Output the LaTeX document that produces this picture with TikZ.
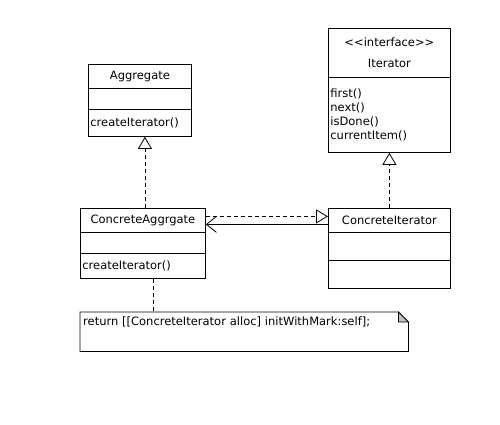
\documentclass[tikz,border=0pt]{standalone}
\usepackage{fontspec}
\setmainfont{DejaVu Sans}
\usetikzlibrary{arrows.meta}

\begin{document}
\begin{tikzpicture}[x=1pt,y=-1pt]
  \tikzstyle{c} = [draw, line width=0.8pt, anchor=north west, inner sep=0pt, font=\fontsize{11.5}{14}\selectfont]
  \tikzstyle{m} = [c, align=left, inner xsep=2pt]
  \tikzstyle{gen} = [line width=0.8pt, dash pattern=on 4pt off 3pt, -{Triangle[open, length=12pt, width=14pt]}]
  \tikzstyle{dep} = [line width=0.8pt, -{Straight Barb[length=10pt, width=16pt]}]
  \tikzstyle{note} = [anchor=north west, text width=322pt, inner xsep=3pt, inner ysep=2pt, text height=11pt, text depth=24pt, align=left, font=\fontsize{11.5}{14}\selectfont]
  \useasboundingbox (0,0) rectangle (500,424);

  \node[c, minimum width=103pt, minimum height=24pt](ag1) at (88,64){Aggregate};
  \node[c, minimum width=103pt, minimum height=21pt](ag2) at (88,88){};
  \node[m, text width=99pt, minimum height=27pt](ag3) at (88,109){createIterator()};

  \node[c, minimum width=122pt, minimum height=49pt, align=center](it1) at (328,28){<{}<interface>{}>\\[7pt]Iterator};
  \node[m, text width=118pt, minimum height=75pt](it2) at (328,77){first()\\next()\\isDone()\\currentItem()};

  \node[c, minimum width=125pt, minimum height=24pt](ca1) at (80,208){ConcreteAggrgate};
  \node[c, minimum width=125pt, minimum height=21pt](ca2) at (80,232){};
  \node[m, text width=121pt, minimum height=25pt](ca3) at (80,253){createIterator()};

  \node[c, minimum width=122pt, minimum height=24pt](ci1) at (328,208){ConcreteIterator};
  \node[c, minimum width=122pt, minimum height=28pt](ci2) at (328,232){};
  \node[c, minimum width=122pt, minimum height=28pt](ci3) at (328,260){};

  \node[note](nt) at (80,312){return [[ConcreteIterator alloc] initWithMark:self];};
  \draw[line width=0.8pt](nt.north west) -- ([xshift=-10pt]nt.north east) -- ([yshift=-10pt]nt.north east) -- (nt.south east) -- (nt.south west) -- cycle;
  \draw[line width=0.8pt, fill=black!25]([xshift=-10pt]nt.north east) -- ([xshift=-10pt, yshift=-10pt]nt.north east) -- ([yshift=-10pt]nt.north east) -- cycle;

  \draw[gen]([xshift=2pt]ca1.north) -- ([xshift=2pt]ca1.north |- ag3.south);
  \draw[gen](ci1.north) -- (it2.south);
  \draw[gen]([yshift=4pt]ca1.east) -- ([yshift=4pt]ca1.east -| ci1.west);
  \draw[dep]([yshift=-4pt]ci1.west) -- ([yshift=-4pt]ci1.west -| ca1.east);
  \draw[line width=0.8pt, dash pattern=on 4pt off 3pt]([xshift=10pt]ca3.south) -- ([xshift=10pt]ca3.south |- nt.north);

\end{tikzpicture}
\end{document}
